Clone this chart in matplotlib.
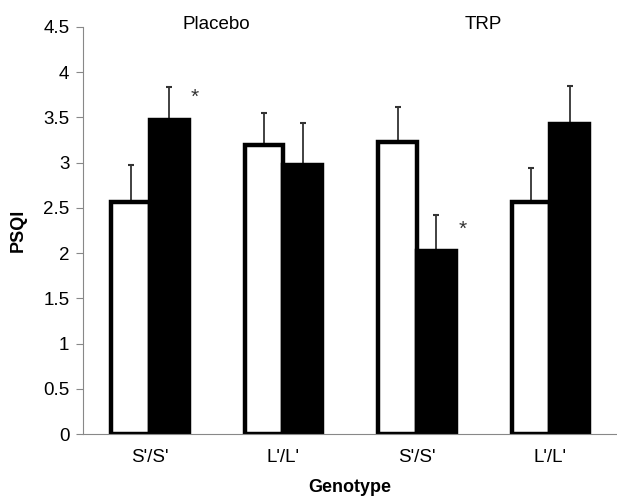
import numpy as np
import matplotlib.pyplot as plt

plt.rcParams['font.family'] = ['Liberation Sans', 'DejaVu Sans']

# data
genotypes = ["S'/S'", "L'/L'", "S'/S'", "L'/L'"]
white_vals = [2.57, 3.19, 3.23, 2.57]
white_err = [0.40, 0.36, 0.38, 0.37]
black_vals = [3.47, 2.97, 2.02, 3.43]
black_err = [0.37, 0.47, 0.40, 0.42]
conditions = ['Placebo', 'TRP']

index = np.arange(len(genotypes))
bar_width = 0.29

fig = plt.figure(figsize=(6.17, 4.99), dpi=100)
ax = fig.add_axes([0.135, 0.13, 0.865, 0.816])

ax.bar(index - bar_width / 2, white_vals, bar_width, color='white',
       edgecolor='black', linewidth=3.2, zorder=2)
ax.bar(index + bar_width / 2, black_vals, bar_width, color='black',
       edgecolor='black', linewidth=3.2, zorder=2)

ax.errorbar(index - bar_width / 2, white_vals,
            yerr=[np.zeros(4), white_err], fmt='none',
            ecolor='#333333', elinewidth=1.3, capsize=2.5, capthick=1.5, zorder=1)
ax.errorbar(index + bar_width / 2, black_vals,
            yerr=[np.zeros(4), black_err], fmt='none',
            ecolor='#333333', elinewidth=1.3, capsize=2.5, capthick=1.5, zorder=1)

# significance markers
ax.text(0 + bar_width / 2 + 0.19, black_vals[0] + black_err[0] - 0.12, '*',
        ha='center', va='center', fontsize=15, color='#333333')
ax.text(2 + bar_width / 2 + 0.2, black_vals[2] + black_err[2] - 0.16, '*',
        ha='center', va='center', fontsize=15, color='#333333')

# condition labels
ax.text(0.5, 4.53, conditions[0], ha='center', va='center', fontsize=13.5)
ax.text(2.5, 4.53, conditions[1], ha='center', va='center', fontsize=13.5)

ax.set_xlim(-0.5, 3.5)
ax.set_ylim(0, 4.5)
ax.set_yticks(np.arange(0, 4.51, 0.5))
ax.set_yticklabels(['0', '0.5', '1', '1.5', '2', '2.5', '3', '3.5', '4', '4.5'])
ax.set_xticks(index)
ax.set_xticklabels(genotypes)

ax.spines['top'].set_visible(False)
ax.spines['right'].set_visible(False)
ax.spines['left'].set_color('#888888')
ax.spines['bottom'].set_color('#888888')
ax.tick_params(axis='y', direction='out', length=5, color='#888888',
               labelsize=13.5, pad=5)
ax.tick_params(axis='x', length=0, labelsize=13.5, pad=11)

ax.set_ylabel('PSQI', fontweight='bold', fontsize=13, labelpad=12)
ax.set_xlabel('Genotype', fontweight='bold', fontsize=13, labelpad=9)

fig.savefig('out.png', dpi=100)
